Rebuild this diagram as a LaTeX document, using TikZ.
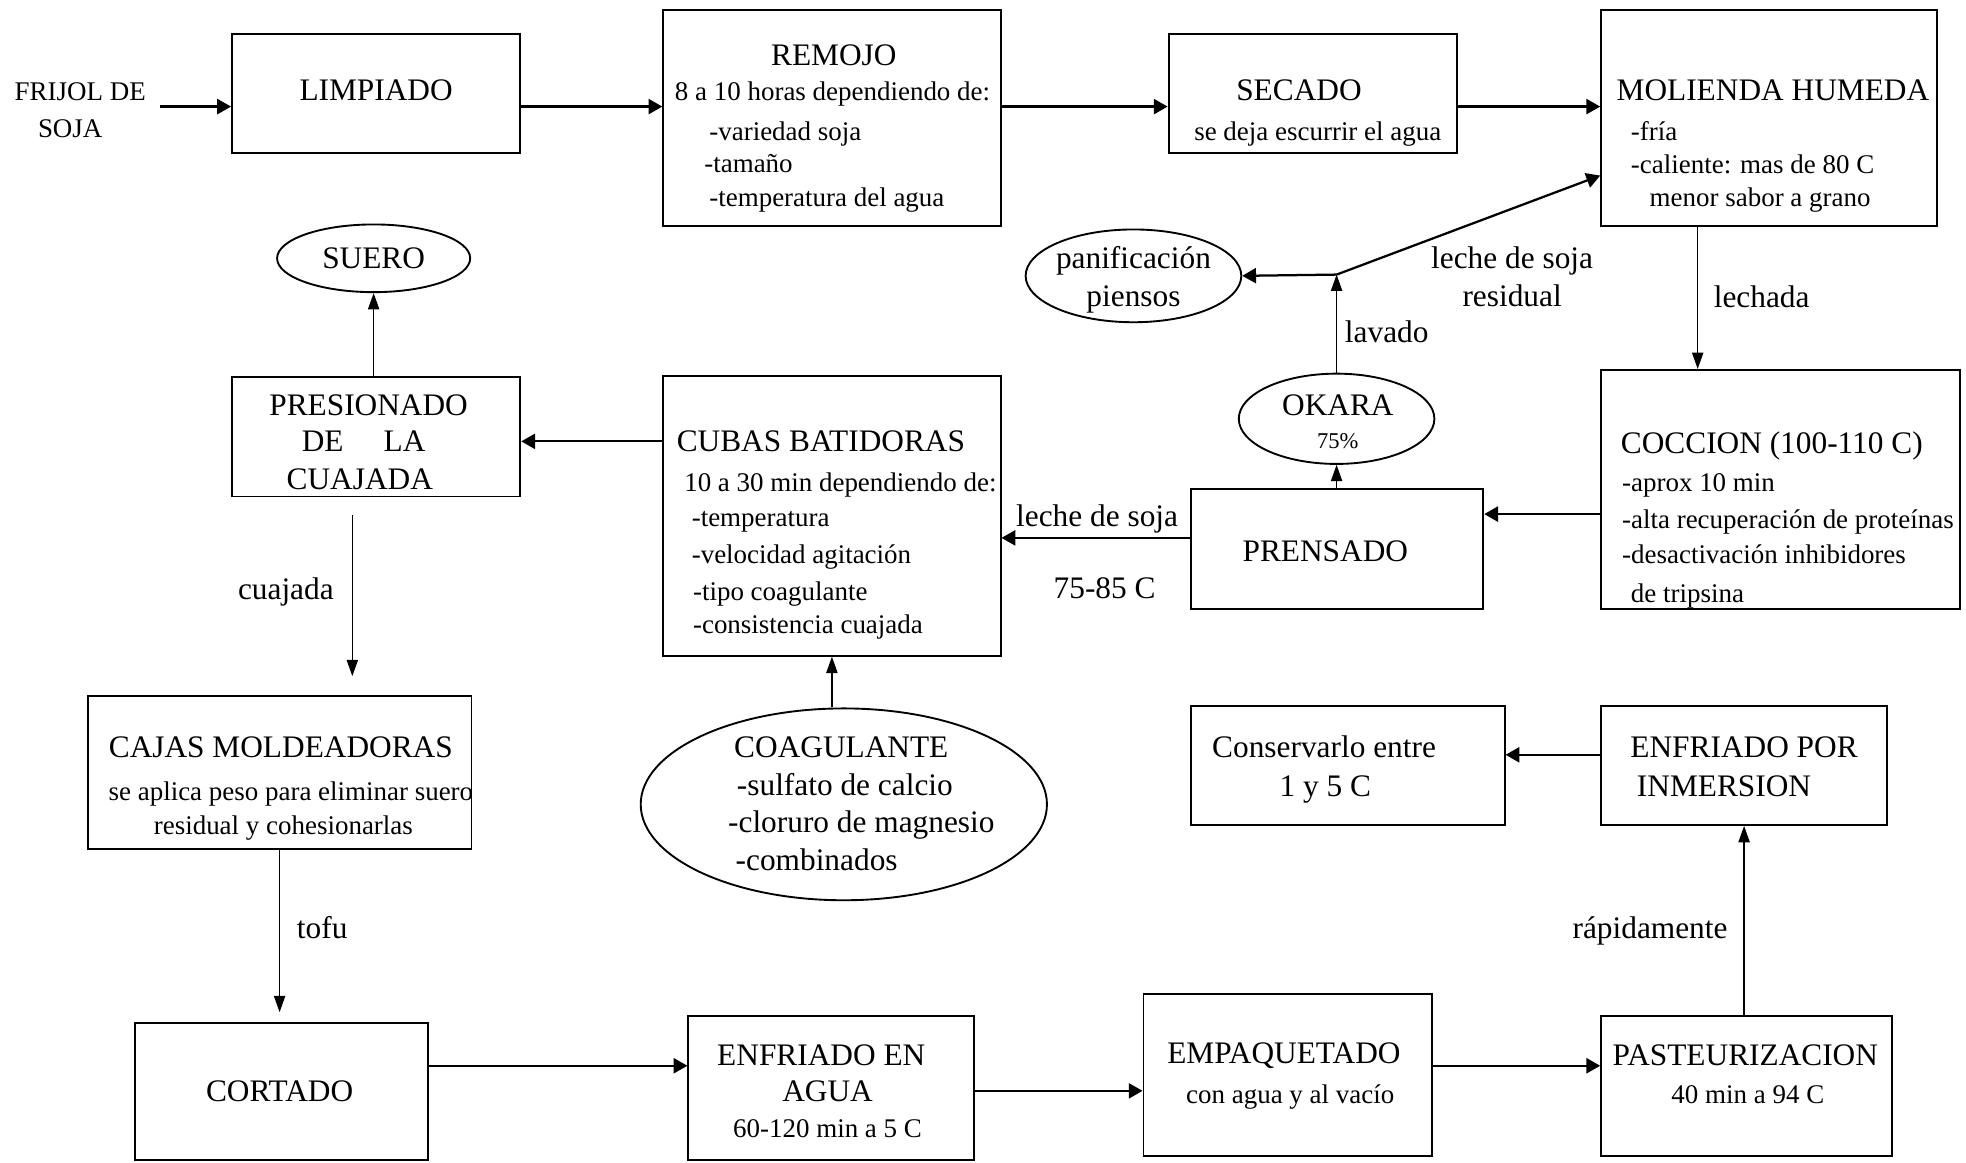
\documentclass[tikz,border=0pt]{standalone}
\usepackage{fontspec}
\setmainfont{Liberation Serif}
\usetikzlibrary{arrows.meta,shapes.geometric}

\tikzset{every picture/.style={line width=1.5pt},
  box/.style={draw, line width=1.5pt, inner sep=0pt},
  oval/.style={draw, ellipse, line width=1.5pt, inner sep=0pt},
  titletext/.style={font=\fontsize{25}{30}\selectfont, inner sep=0pt},
  subtext/.style={font=\fontsize{21.5}{26}\selectfont, inner sep=0pt},
  pctext/.style={font=\fontsize{18}{22}\selectfont, inner sep=0pt},
  flowarrow/.style={line width=1.8pt, -{Triangle[length=11pt,width=12pt]}},
  sidearrow/.style={line width=1pt, -{Triangle[length=13pt,width=9pt]}}}

\begin{document}
\begin{tikzpicture}[x=1pt,y=1pt,yscale=-1,xscale=1]
		\useasboundingbox (0,0) rectangle (1568,927);

		%Shape: Rectangle [top row]
		\node[box, minimum width=230pt, minimum height=95pt] (limpiado) at (300,74.5) {};
		\node[box, minimum width=269pt, minimum height=172pt] (remojo) at (663.5,94) {};
		\node[box, minimum width=230pt, minimum height=95pt] (secado) at (1047,74.5) {};
		\node[box, minimum width=268pt, minimum height=172pt] (molienda) at (1411,94) {};
		%Shape: Rectangle [middle]
		\node[box, minimum width=230pt, minimum height=95pt] (presionado) at (300,348.5) {};
		\node[box, minimum width=269pt, minimum height=223pt] (cubas) at (663.5,411.5) {};
		\node[box, minimum width=233pt, minimum height=96pt] (prensado) at (1066.5,438) {};
		\node[box, minimum width=286pt, minimum height=191pt] (coccion) at (1420,390.5) {};
		\node[box, minimum width=306pt, minimum height=122pt] (cajas) at (223,616) {};
		\node[box, minimum width=250pt, minimum height=95pt] (conserva) at (1075,610.5) {};
		\node[box, minimum width=228pt, minimum height=95pt] (enfpor) at (1391,610.5) {};
		%Shape: Rectangle [bottom row]
		\node[box, minimum width=233pt, minimum height=109pt] (cortado) at (224.5,870.5) {};
		\node[box, minimum width=228pt, minimum height=115pt] (enfagua) at (663,867.5) {};
		\node[box, minimum width=230pt, minimum height=129pt] (empaq) at (1027,857.5) {};
		\node[box, minimum width=232pt, minimum height=112pt] (pasteur) at (1393,866) {};
		%Shape: Ellipse
		\node[oval, minimum width=154pt, minimum height=54pt] (suero) at (298,206) {};
		\node[oval, minimum width=172pt, minimum height=74pt] (panif) at (904,220) {};
		\node[oval, minimum width=156pt, minimum height=72pt] (okara) at (1066,334) {};
		\node[oval, minimum width=324pt, minimum height=153pt] (coag) at (673,641.5) {};

		\coordinate (inA) at (128,85);
		\coordinate (jn) at (1066,219);

		%Straight Lines
		\draw[flowarrow] (inA) -- (limpiado.west |- inA);
		\draw[flowarrow] (limpiado.east |- inA) -- (remojo.west |- inA);
		\draw[flowarrow] (remojo.east |- inA) -- (secado.west |- inA);
		\draw[flowarrow] (secado.east |- inA) -- (molienda.west |- inA);
		\draw[sidearrow] (molienda.south -| 1354,0) -- (coccion.north -| 1354,0);
		\draw[flowarrow] (coccion.west |- 0,410) -- (prensado.east |- 0,410);
		\draw[sidearrow] (prensado.north -| okara.south) -- (okara.south);
		\draw[sidearrow] (okara.north) -- (jn);
		\draw[flowarrow] (jn) -- (panif.east);
		\draw[flowarrow] (jn) -- (molienda.west |- 0,140);
		\draw[flowarrow] (prensado.west |- 0,429) -- (cubas.east |- 0,429);
		\draw[sidearrow] (coag.north -| cubas.south) -- (cubas.south);
		\draw[flowarrow] (cubas.west |- 0,352) -- (presionado.east |- 0,352);
		\draw[sidearrow] (presionado.north -| suero.south) -- (suero.south);
		\draw[sidearrow, shorten <=14pt, shorten >=15pt] (presionado.south -| 281,0) -- (cajas.north -| 281,0);
		\draw[sidearrow, shorten >=8pt] (cajas.south) -- (cortado.north -| cajas.south);
		\draw[flowarrow] (cortado.east |- 0,850) -- (enfagua.west |- 0,850);
		\draw[flowarrow] (enfagua.east |- 0,870) -- (empaq.west |- 0,870);
		\draw[flowarrow] (empaq.east |- 0,850) -- (pasteur.west |- 0,850);
		\draw[sidearrow] (pasteur.north -| enfpor.south) -- (enfpor.south);
		\draw[flowarrow] (enfpor.west |- 0,602) -- (conserva.east |- 0,602);

		% Text Node
		\node[subtext] (frijolA) at (64,73) {FRIJOL DE};
		\node[subtext] (frijolB) at (56,103) {SOJA};
		\node[titletext] (limpiadoT) at (300,72) {LIMPIADO};
		% Text Node
		\node[titletext] (remojoT) at (665,44) {REMOJO};
		\node[subtext, anchor=mid] (remojoA) at (664,78) {8 a 10 horas dependiendo de:};
		\node[subtext, anchor=mid west] (remojoB) at (565,110) {-variedad soja};
		\node[subtext, anchor=mid west] (remojoC) at (561,135) {-tamaño};
		\node[subtext, anchor=mid west] (remojoD) at (565,162) {-temperatura del agua};
		% Text Node
		\node[titletext] (secadoT) at (1036,72) {SECADO};
		\node[subtext, anchor=mid] (secadoA) at (1051,110) {se deja escurrir el agua};
		% Text Node
		\node[titletext] (moliendaT) at (1414,72) {MOLIENDA HUMEDA};
		\node[subtext, anchor=mid west] (moliendaA) at (1300,110) {-fría};
		\node[subtext, anchor=mid west] (moliendaB) at (1300,136) {-caliente: mas de 80 C};
		\node[subtext, anchor=mid west] (moliendaC) at (1315,162) {menor sabor a grano};
		% Text Node
		\node[titletext] (sueroT) at (298,206) {SUERO};
		\node[titletext, anchor=mid] (panifA) at (904,212) {panificación};
		\node[titletext, anchor=mid] (panifB) at (904,242) {piensos};
		\node[titletext, anchor=mid] (residA) at (1206,212) {leche de soja};
		\node[titletext, anchor=mid] (residB) at (1206,242) {residual};
		\node[titletext, anchor=mid] (lechadaL) at (1405,243) {lechada};
		\node[titletext, anchor=mid] (lavadoL) at (1106,271) {lavado};
		\node[titletext] (okaraT) at (1067,323) {OKARA};
		\node[pctext] (okaraA) at (1067,352) {75\%};
		% Text Node
		\node[titletext] (presA) at (294,323) {PRESIONADO};
		\node[titletext] (presB) at (290,352) {DE\hspace{32pt}LA};
		\node[titletext] (presC) at (287,382) {CUAJADA};
		% Text Node
		\node[titletext, anchor=west] (cubasT) at (539,352) {CUBAS BATIDORAS};
		\node[subtext, anchor=mid west] (cubasA) at (545,390) {10 a 30 min dependiendo de:};
		\node[subtext, anchor=mid west] (cubasB) at (551,418) {-temperatura};
		\node[subtext, anchor=mid west] (cubasC) at (551,447) {-velocidad agitación};
		\node[subtext, anchor=mid west] (cubasD) at (552,477) {-tipo coagulante};
		\node[subtext, anchor=mid west] (cubasE) at (552,503) {-consistencia cuajada};
		% Text Node
		\node[titletext] (prensadoT) at (1057,440) {PRENSADO};
		\node[titletext, anchor=mid] (lecheL) at (875,418) {leche de soja};
		\node[titletext, anchor=mid] (tempL) at (881,475) {75-85 C};
		% Text Node
		\node[titletext, anchor=base west] (coccionT) at (1292,362) {COCCION (100-110 C)};
		\node[subtext, anchor=mid west] (coccionA) at (1293,390) {-aprox 10 min};
		\node[subtext, anchor=mid west] (coccionB) at (1293,419) {-alta recuperación de proteínas};
		\node[subtext, anchor=mid west] (coccionC) at (1293,447) {-desactivación inhibidores};
		\node[subtext, anchor=mid west] (coccionD) at (1300,478) {de tripsina};
		% Text Node
		\node[titletext] (coagT) at (671,596) {COAGULANTE};
		\node[titletext, anchor=mid west] (coagA) at (587,632) {-sulfato de calcio};
		\node[titletext, anchor=mid west] (coagB) at (580,662) {-cloruro de magnesio};
		\node[titletext, anchor=mid west] (coagC) at (586,692) {-combinados};
		% Text Node
		\node[titletext, anchor=mid] (cuajadaL) at (228,476) {cuajada};
		\node[titletext, anchor=mid] (tofuL) at (257,746) {tofu};
		\node[titletext, anchor=mid] (rapidL) at (1316,746) {rápidamente};
		% Text Node
		\node[titletext] (cajasT) at (224,596) {CAJAS MOLDEADORAS};
		\node[subtext, anchor=mid] (cajasA) at (232,636) {se aplica peso para eliminar suero};
		\node[subtext, anchor=mid] (cajasB) at (226,663) {residual y cohesionarlas};
		% Text Node
		\node[titletext] (cortadoT) at (223,870) {CORTADO};
		\node[titletext] (enfaguaA) at (655,842) {ENFRIADO EN};
		\node[titletext] (enfaguaB) at (660,870) {AGUA};
		\node[subtext, anchor=mid] (enfaguaC) at (660,905) {60-120 min a 5 C};
		\node[titletext] (empaqT) at (1024,842) {EMPAQUETADO};
		\node[subtext, anchor=mid] (empaqA) at (1029,878) {con agua y al vacío};
		\node[titletext] (pasteurT) at (1392,842) {PASTEURIZACION};
		\node[subtext, anchor=mid] (pasteurA) at (1394,878) {40 min a 94 C};
		% Text Node
		\node[titletext] (enfporA) at (1391,596) {ENFRIADO POR};
		\node[titletext] (enfporB) at (1375,627) {INMERSION};
		\node[titletext, anchor=mid] (conservaA) at (1056,602) {Conservarlo entre};
		\node[titletext, anchor=mid] (conservaB) at (1057,633) {1 y 5 C};

\end{tikzpicture}
\end{document}
